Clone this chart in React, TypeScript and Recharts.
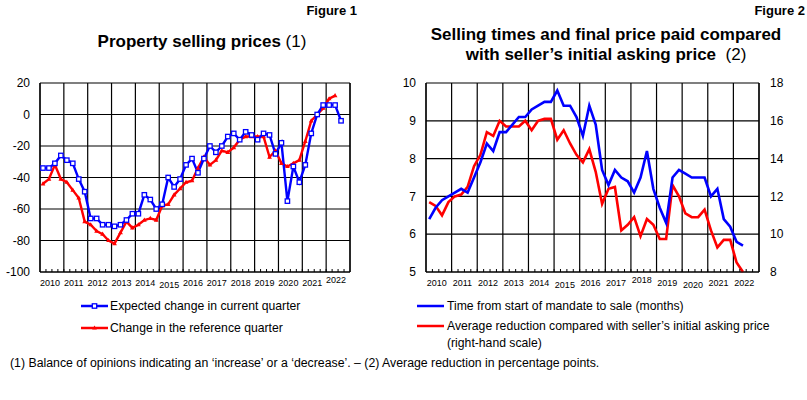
import { LineChart, Line, XAxis, YAxis, CartesianGrid } from "recharts"

const years = ["2010", "2011", "2012", "2013", "2014", "2015", "2016", "2017", "2018", "2019", "2020", "2021", "2022"]

// Figure 1, quarterly from 2010 Q1, balance of opinions
const expectedChange = [
  -34, -34, -31, -26, -29, -31, -41, -49, -66, -66, -70, -70, -71, -70, -67, -63,
  -63, -51, -54, -60, -57, -40, -46, -41, -32, -28, -37, -28, -20, -24, -20, -14,
  -12, -16, -11, -13, -16, -12, -13, -25, -18, -55, -33, -43, -32, -12, 0, 6,
  6, 6, -4,
]
const referenceChange = [
  -44, -41, -32, -41, -43, -48, -53, -68, -70, -74, -76, -80, -82, -75, -68, -72,
  -70, -67, -66, -67, -58, -57, -51, -47, -43, -42, -34, -27, -32, -29, -23, -24,
  -21, -16, -14, -14, -14, -14, -27, -23, -31, -33, -31, -29, -17, -4, 0, 4,
  10, 12,
]

// Figure 2, quarterly from 2010 Q1
const sellingTime = [
  6.4, 6.7, 6.9, 7.0, 7.1, 7.2, 7.1, 7.5, 7.9, 8.4, 8.2, 8.7, 8.7, 8.9, 9.1, 9.1,
  9.3, 9.4, 9.5, 9.5, 9.8, 9.4, 9.4, 9.1, 8.6, 9.4, 8.9, 7.7, 7.3, 7.7, 7.5, 7.4,
  7.1, 7.5, 8.2, 7.2, 6.7, 6.3, 7.5, 7.7, 7.6, 7.5, 7.5, 7.5, 7.0, 7.2, 6.4, 6.2,
  5.8, 5.7,
]
const priceReduction = [
  11.7, 11.5, 11.0, 11.7, 12.0, 12.1, 12.5, 13.6, 14.2, 15.4, 15.2, 16.0, 15.7, 15.7, 15.7, 16.0,
  15.5, 16.0, 16.1, 16.1, 15.0, 15.5, 14.8, 14.2, 13.8, 14.5, 13.3, 11.6, 12.4, 12.5, 10.2, 10.5,
  10.9, 9.9, 10.8, 10.5, 9.75, 9.75, 12.6, 12.0, 11.1, 10.9, 10.9, 11.3, 10.2, 9.3, 9.7, 9.7,
  8.5, 8.0,
]

const leftTicks = [-100, -80, -60, -40, -20, 0, 20]
const timeTicks = [5, 6, 7, 8, 9, 10]
const reductionTicks = [8, 10, 12, 14, 16, 18]

const FONT = "'Liberation Sans', Arial, sans-serif"
const BLUE = "#0000ff"
const RED = "#ff0000"

const quarterTicks = Array.from({ length: 53 }, (_, i) => i)
const yearBounds = quarterTicks.filter((q) => q % 4 === 0)

const fig1Data = expectedChange.map((v, i) => ({
  x: i + 0.5,
  expected: v,
  reference: referenceChange[i] ?? null,
}))

const fig2Data = sellingTime.map((v, i) => ({
  x: i + 0.5,
  time: v,
  reduction: priceReduction[i] ?? null,
}))

// a few year labels sit a little higher or lower in the original
const fig1Shift: Record<string, number> = { "2015": 2, "2022": -3 }
const fig2Shift: Record<string, number> = { "2015": 2, "2018": -3, "2020": 2 }

function QuarterTick(props: any) {
  const { x, y, payload, shift } = props
  const q = payload.value
  const label = q % 4 === 2 ? years[(q - 2) / 4] : null
  return (
    <g>
      {q > 0 && q < 52 && <line x1={x} x2={x} y1={y} y2={y - 3} stroke="#000" strokeWidth={1} />}
      {label && (
        <text x={x - 2} y={y + 14 + (shift[label] || 0)} textAnchor="middle" fontSize={9} fontFamily={FONT} fill="#000">
          {label}
        </text>
      )}
    </g>
  )
}

function SquareDot(props: any) {
  const { cx, cy } = props
  if (cx == null || cy == null) return <g />
  return <rect x={cx - 2.2} y={cy - 2.2} width={4.4} height={4.4} fill="#fff" stroke={BLUE} strokeWidth={1.3} />
}

function TriangleDot(props: any) {
  const { cx, cy } = props
  if (cx == null || cy == null) return <g />
  return <polygon points={`${cx},${cy - 2.6} ${cx + 2.4},${cy + 1.6} ${cx - 2.4},${cy + 1.6}`} fill={RED} />
}

const tickStyle = { fontSize: 12, fill: "#000", fontFamily: FONT }

function LegendIcon({ color, marker }: { color: string; marker?: "square" | "triangle" }) {
  return (
    <svg width={27} height={10} style={{ display: "block" }}>
      <line x1={0} x2={27} y1={5} y2={5} stroke={color} strokeWidth={2.5} />
      {marker === "square" && <rect x={11.3} y={2.8} width={4.4} height={4.4} fill="#fff" stroke={color} strokeWidth={1.3} />}
      {marker === "triangle" && <polygon points="13.5,2.4 15.9,6.6 11.1,6.6" fill={color} />}
    </svg>
  )
}

const abs = (left: number, top: number): React.CSSProperties => ({ position: "absolute", left, top })

export default function App() {
  return (
    <div style={{ position: "absolute", left: 0, top: 0, width: 807, height: 400, background: "#fff", fontFamily: FONT, color: "#000" }}>
      <div style={{ ...abs(250, 3), width: 107, textAlign: "right", fontSize: 13, fontWeight: "bold" }}>Figure 1</div>
      <div style={{ ...abs(700, 3), width: 105, textAlign: "right", fontSize: 13, fontWeight: "bold" }}>Figure 2</div>

      <div style={{ ...abs(2, 32), width: 400, textAlign: "center", fontSize: 17, lineHeight: "20px", fontWeight: "bold" }}>
        Property selling prices <span style={{ fontWeight: "normal" }}>(1)</span>
      </div>
      <div style={{ ...abs(406, 25), width: 400, textAlign: "center", fontSize: 17, lineHeight: "20px", fontWeight: "bold" }}>
        Selling times and final price paid compared
        <br />
        with seller’s initial asking price&nbsp; <span style={{ fontWeight: "normal" }}>(2)</span>
      </div>

      <div style={abs(0, 0)}>
        <LineChart width={400} height={300} data={fig1Data} margin={{ top: 83, right: 0, bottom: 0, left: 0 }}>
          <CartesianGrid yAxisId="l" stroke="#000" strokeWidth={1.2} horizontalValues={leftTicks} verticalValues={yearBounds} />
          <XAxis
            dataKey="x"
            type="number"
            domain={[0, 52]}
            ticks={quarterTicks}
            interval={0}
            height={28}
            tickSize={0}
            tickMargin={0}
            axisLine={{ stroke: "#000", strokeWidth: 1.2 }}
            tick={(p: any) => <QuarterTick {...p} shift={fig1Shift} />}
          />
          <YAxis yAxisId="l" domain={[-100, 20]} ticks={leftTicks} interval={0} width={40} tickSize={0} tickMargin={10} axisLine={{ stroke: "#000", strokeWidth: 1.2 }} tick={tickStyle} />
          <YAxis yAxisId="r" orientation="right" domain={[-100, 20]} ticks={leftTicks} interval={0} width={50} tickSize={0} tickMargin={10} axisLine={{ stroke: "#000", strokeWidth: 1.2 }} tick={tickStyle} />
          <Line yAxisId="l" dataKey="reference" stroke={RED} strokeWidth={2.4} dot={TriangleDot} activeDot={false} isAnimationActive={false} />
          <Line yAxisId="l" dataKey="expected" stroke={BLUE} strokeWidth={2.4} dot={SquareDot} activeDot={false} isAnimationActive={false} />
        </LineChart>
      </div>

      <div style={abs(400, 0)}>
        <LineChart width={407} height={300} data={fig2Data} margin={{ top: 83, right: 0, bottom: 0, left: 0 }}>
          <CartesianGrid yAxisId="l" stroke="#000" strokeWidth={1.2} horizontalValues={timeTicks} verticalValues={yearBounds} />
          <XAxis
            dataKey="x"
            type="number"
            domain={[0, 52]}
            ticks={quarterTicks}
            interval={0}
            height={28}
            tickSize={0}
            tickMargin={0}
            axisLine={{ stroke: "#000", strokeWidth: 1.2 }}
            tick={(p: any) => <QuarterTick {...p} shift={fig2Shift} />}
          />
          <YAxis yAxisId="l" domain={[5, 10]} ticks={timeTicks} interval={0} width={26} tickSize={0} tickMargin={10} axisLine={{ stroke: "#000", strokeWidth: 1.2 }} tick={tickStyle} />
          <YAxis yAxisId="r" orientation="right" domain={[8, 18]} ticks={reductionTicks} interval={0} width={48} tickSize={0} tickMargin={11} axisLine={{ stroke: "#000", strokeWidth: 1.2 }} tick={tickStyle} />
          <Line yAxisId="r" dataKey="reduction" stroke={RED} strokeWidth={2.6} dot={false} activeDot={false} isAnimationActive={false} />
          <Line yAxisId="l" dataKey="time" stroke={BLUE} strokeWidth={2.6} dot={false} activeDot={false} isAnimationActive={false} />
        </LineChart>
      </div>

      {/* legends */}
      <div style={{ ...abs(81, 299), display: "flex", alignItems: "center", fontSize: 12.2 }}>
        <LegendIcon color={BLUE} marker="square" />
        <span style={{ marginLeft: 2 }}>Expected change in current quarter</span>
      </div>
      <div style={{ ...abs(81, 321), display: "flex", alignItems: "center", fontSize: 12.2 }}>
        <LegendIcon color={RED} marker="triangle" />
        <span style={{ marginLeft: 2 }}>Change in the reference quarter</span>
      </div>
      <div style={{ ...abs(417, 299), display: "flex", alignItems: "center", fontSize: 12.2 }}>
        <LegendIcon color={BLUE} />
        <span style={{ marginLeft: 3 }}>Time from start of mandate to sale (months)</span>
      </div>
      <div style={{ ...abs(417, 318), display: "flex", alignItems: "flex-start", fontSize: 12.2, lineHeight: "17px" }}>
        <div style={{ marginTop: 3 }}>
          <LegendIcon color={RED} />
        </div>
        <span style={{ marginLeft: 3 }}>
          Average reduction compared with seller’s initial asking price
          <br />
          (right-hand scale)
        </span>
      </div>

      <div style={{ ...abs(10, 355), fontSize: 12.3, lineHeight: "16px" }}>
        (1) Balance of opinions indicating an ‘increase’ or a ‘decrease’. – (2) Average reduction in percentage points.
      </div>
    </div>
  )
}
